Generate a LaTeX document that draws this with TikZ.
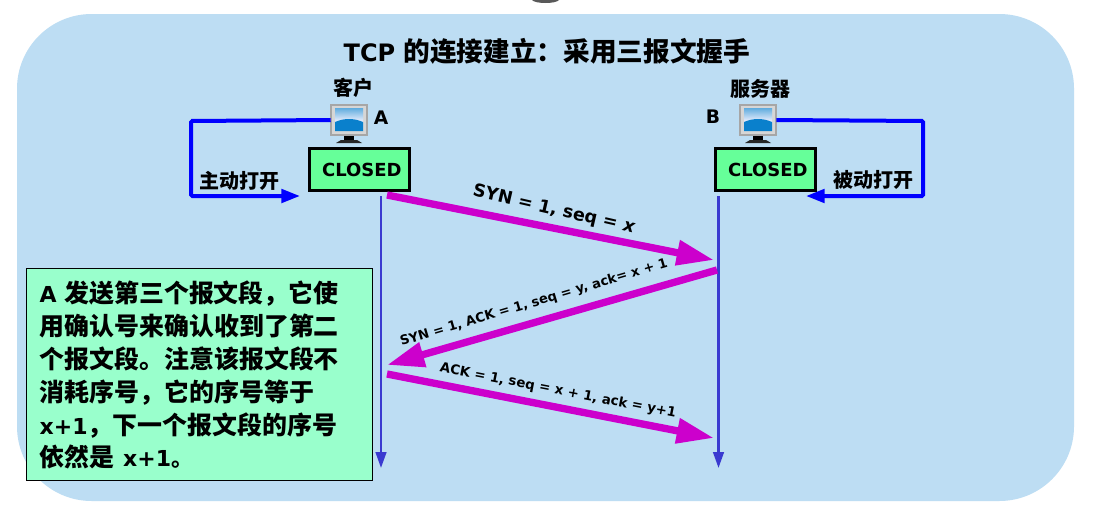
\documentclass[tikz,border=0pt]{standalone}
\usepackage{fontspec}
\setmainfont{DejaVu Sans}
\newfontfamily\cjk{Noto Sans CJK SC}
\newcommand{\zh}[1]{{\cjk #1}}
\usetikzlibrary{arrows.meta}
\definecolor{panelblue}{HTML}{BDDDF3}
\definecolor{closedgreen}{HTML}{66FF99}
\definecolor{notegreen}{HTML}{99FFCC}
\definecolor{linkblue}{HTML}{0000FF}
\definecolor{timeblue}{HTML}{3A3AD0}
\definecolor{msgpink}{HTML}{CC00CC}
\definecolor{screenblue}{HTML}{0A80CC}
\begin{document}
\begin{tikzpicture}[x=0.75pt,y=-0.75pt,
  font=\bfseries,
  state/.style={draw=black, line width=1.6pt, fill=closedgreen, minimum width=75pt, minimum height=31.5pt, inner sep=0pt, font=\bfseries\fontsize{13.5}{18}\selectfont},
  pc/.style={fill=black!16, minimum width=27pt, minimum height=22.5pt, inner sep=0pt},
  lab/.style={font=\bfseries\fontsize{15}{18}\selectfont},
  open/.style={-{Triangle[length=14pt,width=10pt]}, draw=linkblue, line width=3pt},
  life/.style={-{Triangle[length=12pt,width=8pt]}, draw=timeblue, line width=1.8pt},
  msg/.style={-{Triangle[length=28pt,width=18pt]}, draw=msgpink, line width=5.5pt},
  note/.style={draw=black, line width=0.7pt, fill=notegreen, minimum width=259.5pt, minimum height=159.5pt, inner sep=0pt}
]
\useasboundingbox (0,0) rectangle (1105,521);
\fill[white] (0,0) rectangle (1105,521);
\fill[black!65] (532,0) -- (559,0) .. controls (556,4) and (535,4) .. (532,0);
\fill[panelblue, rounded corners=56pt] (17,14) rectangle (1074,501);
\node[font=\bfseries\fontsize{20}{24}\selectfont] (title) at (547,51) {\fontsize{18}{24}\selectfont TCP \fontsize{20}{24}\selectfont\zh{的连接建立：采用三报文握手}};
% hosts
\node[lab] (client) at (353,88) {\zh{客户}};
\node[lab] (server) at (760,89) {\zh{服务器}};
\node[pc] (pcA) at (349,120) {};
\node[pc] (pcB) at (758,120) {};
\foreach \host in {pcA,pcB} {
  \begin{scope}[shift={(\host)}]
    \draw[black!35, line width=0.8pt] (-18,-15) rectangle (18,15);
    \shade[top color=screenblue!65, bottom color=blue!5!white] (-14,-12) rectangle (14,2);
    \fill[screenblue] (-14,11) -- (-14,2) .. controls (-5,-2) and (5,-2) .. (14,2) -- (14,11) -- cycle;
    \fill[black] (-5,15.5) rectangle (5,20);
    \fill[black!85] (-13,23) -- (-8,20) -- (8,20) -- (13,23) -- cycle;
  \end{scope}
}
\node[font=\bfseries\fontsize{14}{17}\selectfont] (nameA) at (381,118) {A};
\node[font=\bfseries\fontsize{14}{17}\selectfont] (nameB) at (713,117) {B};
\node[state] (boxA) at (359.5,169.5) {\kern3.5pt CLOSED};
\node[state] (boxB) at (765.5,169.5) {\kern3.5pt CLOSED};
% open arrows
\coordinate (openA) at (300,196);
\coordinate (openB) at (806,196);
\draw[open, rounded corners=1pt] (pcA.west) -- (191,121) -- (191,196) -- (openA);
\draw[open, rounded corners=1pt] (pcB.east) -- (923,121) -- (923,196) -- (openB);
\node[lab] (active) at (239,181) {\zh{主动打开}};
\node[lab] (passive) at (873,180) {\zh{被动打开}};
% time lines
\coordinate (topA) at (381,196);
\coordinate (endA) at (381,468);
\coordinate (topB) at (718.5,196);
\coordinate (endB) at (718.5,468);
\draw[life] (topA) -- (endA);
\draw[life] (topB) -- (endB);
% messages
\coordinate (synS) at (387,195);
\coordinate (synE) at (714,260);
\coordinate (ackS) at (717,270);
\coordinate (ackE) at (387,365);
\coordinate (finS) at (387,374);
\coordinate (finE) at (714,438);
\draw[msg] (synS) -- (synE);
\draw[msg] (ackS) -- (ackE);
\draw[msg] (finS) -- (finE);
\node[rotate=-13, font=\bfseries\fontsize{13.2}{17}\selectfont] (synlab) at (554,210) {SYN = 1, seq = \textit{x}};
\node[rotate=16.5, font=\bfseries\fontsize{9.8}{13}\selectfont] (acklab) at (534,303) {SYN = 1, ACK = 1, seq = y, ack= x + 1};
\node[rotate=-11, font=\bfseries\fontsize{10}{13}\selectfont] (finlab) at (558,391) {ACK = 1, seq = x + 1, ack = y+1};
% note
\node[note] (notebox) at (199,374.5) {};
\node[anchor=west, align=left, font=\bfseries\fontsize{18.7}{24.7}\selectfont] (notetext) at (35,375) {\fontsize{16.5}{24.7}\selectfont A \fontsize{18.7}{24.7}\selectfont\zh{发送第三个报文段，它使}\\\zh{用确认号来确认收到了第二}\\\zh{个报文段。注意该报文段不}\\\zh{消耗序号，它的序号等于}\\\fontsize{16.5}{24.7}\selectfont x+1\fontsize{18.7}{24.7}\selectfont\zh{，下一个报文段的序号}\\\zh{依然是} \fontsize{16.5}{24.7}\selectfont x+1\zh{。}};
\end{tikzpicture}
\end{document}
